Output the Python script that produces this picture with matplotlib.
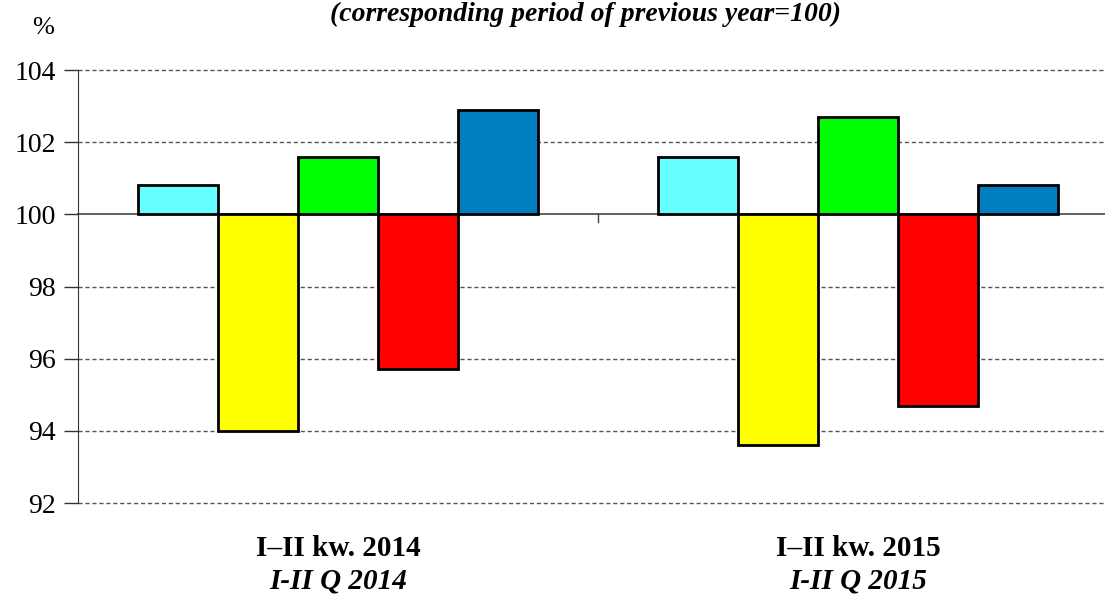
import matplotlib
matplotlib.use("Agg")
import matplotlib.pyplot as plt
import numpy as np

groups_pl = ["I\u2013II kw. 2014", "I\u2013II kw. 2015"]
groups_en = ["I-II Q 2014", "I-II Q 2015"]
series_colors = ["#66FFFF", "#FFFF00", "#00FF00", "#FF0000", "#007FC0"]
values = [
    [100.8, 101.6],   # cyan
    [94.0, 93.6],     # yellow
    [101.6, 102.7],   # green
    [95.7, 94.7],     # red
    [102.9, 100.8],   # blue
]
yticks = [92, 94, 96, 98, 100, 102, 104]
base = 100

plt.rcParams['font.family'] = ['Liberation Serif', 'DejaVu Serif']

fig = plt.figure(figsize=(11.05, 5.99), dpi=100)
ax = fig.add_axes([78/1105, (599-503)/599, 1 - 78/1105, (503-70)/599])

x = np.arange(len(groups_pl))
n = len(values)
w = 0.154
for i, (vals, c) in enumerate(zip(values, series_colors)):
    offs = (i - (n - 1) / 2) * w
    v = np.array(vals)
    ax.bar(x + offs, v - base, bottom=base, width=w, color=c,
           edgecolor="black", linewidth=2, zorder=3)

ax.set_ylim(92, 104)
ax.set_xlim(-0.5, -0.5 + 1027/520)
ax.set_yticks(yticks)
ax.set_yticklabels([str(t) for t in yticks], fontsize=20)
ax.tick_params(axis='y', length=10, width=1, pad=6, color='#333333')
ax.set_xticks([])
for t in yticks:
    if t == base:
        ax.axhline(t, color='#444444', lw=1.2, zorder=2, clip_on=False)
    else:
        ax.axhline(t, color='#555555', lw=1, ls=(0, (3, 2)), zorder=1, clip_on=False)
# small tick at the category boundary on the base line
ax.plot([0.5, 0.5], [base, base - 0.2], color='#444444', lw=1, zorder=2)

for s in ['top', 'right', 'bottom']:
    ax.spines[s].set_visible(False)
ax.spines['left'].set_color('#333333')

for xi, pl, en in zip(x, groups_pl, groups_en):
    ax.text(xi, -45/433, pl, transform=ax.get_xaxis_transform(), ha='center', va='center',
            fontsize=21, fontweight='bold')
    ax.text(xi, -78/433, en, transform=ax.get_xaxis_transform(), ha='center', va='center',
            fontsize=21, fontweight='bold', style='italic')

fig.text(585/1105, 1 - 14/599, "(corresponding period of previous year=100)",
         ha='center', va='center', fontsize=20, fontweight='bold', style='italic')
fig.text(43/1105, 1 - 28/599, "%", ha='center', va='center', fontsize=19)

fig.savefig("out.png", dpi=100)
